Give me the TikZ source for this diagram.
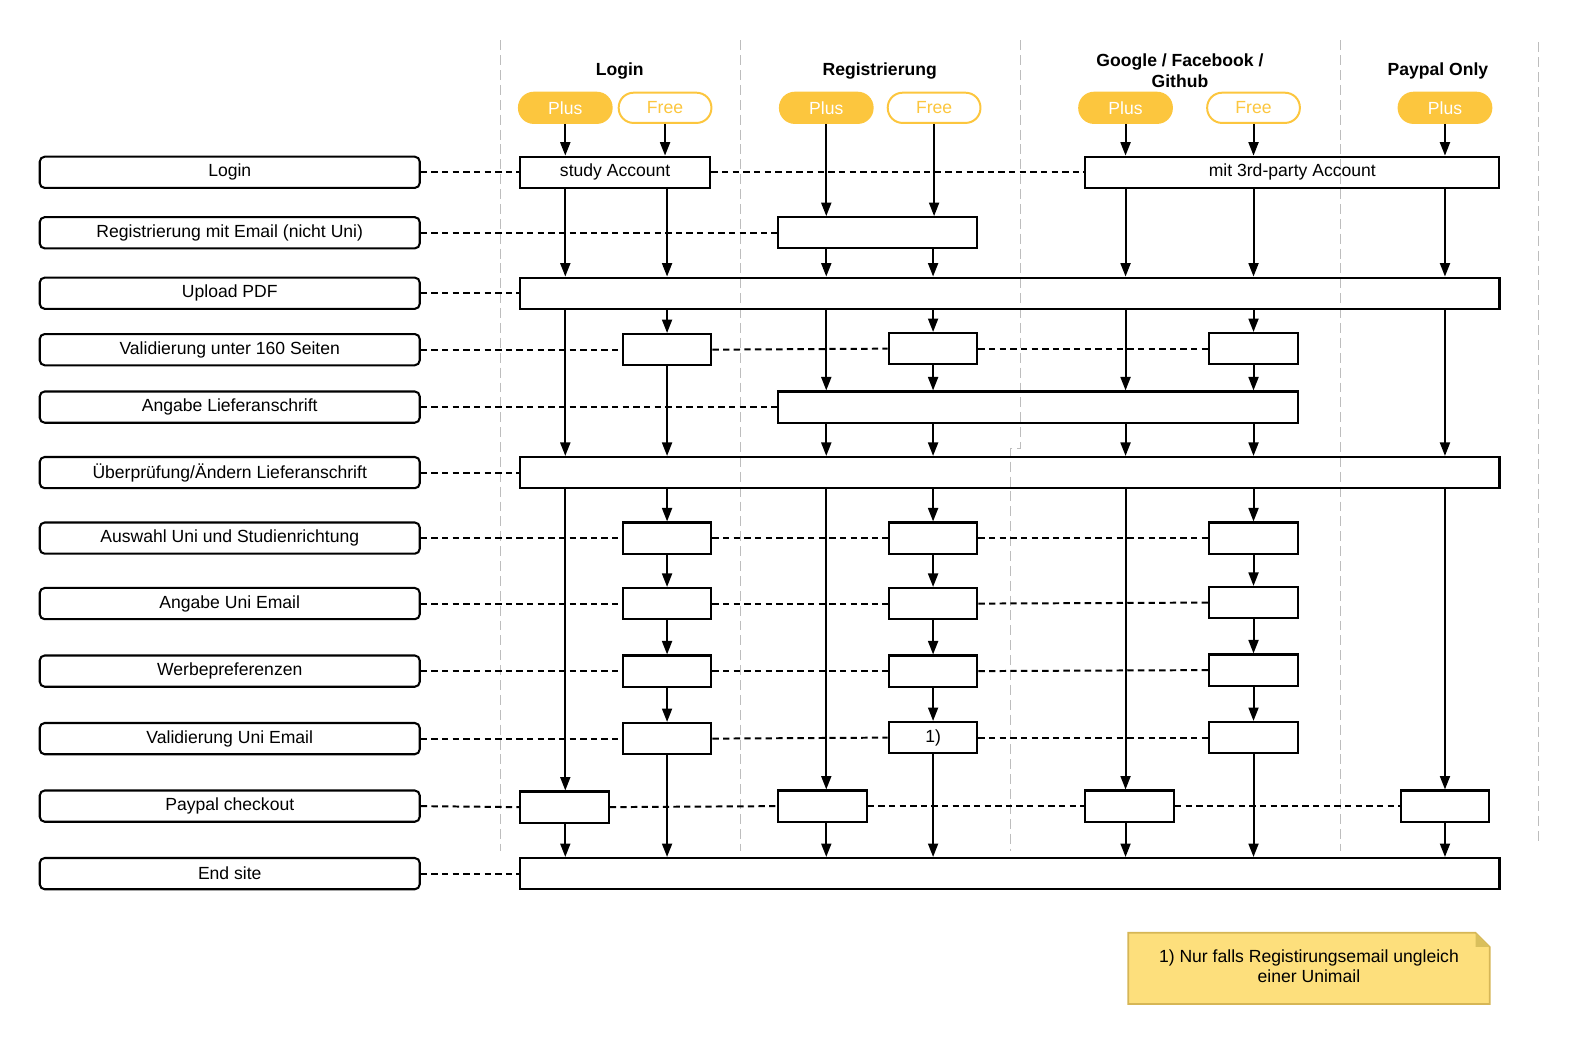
\documentclass[tikz,border=0pt]{standalone}
\usepackage{fontspec}
\setmainfont{Liberation Sans}
\usetikzlibrary{arrows.meta, calc, backgrounds}
\usepackage{xcolor}
\definecolor{pillcol}{HTML}{FCC63E}
\definecolor{notecol}{HTML}{FDDF7C}
\definecolor{notedraw}{HTML}{D6B656}
\definecolor{foldcol}{HTML}{D9BF5C}
\definecolor{gridcol}{HTML}{BDBDBD}

\begin{document}
\begin{tikzpicture}[
    x=0.025cm, y=-0.025cm,
    >={Triangle[length=9.5pt, width=7pt]},
    font=\fontsize{12.4}{14.5}\selectfont,
    rowlabel/.style={
        draw, rounded corners=3.5pt, line width=1.45pt, inner sep=0pt,
        minimum width=9.425cm, minimum height=0.775cm
    },
    box/.style={
        draw, line width=1.45pt, inner sep=0pt, minimum height=0.775cm
    },
    cell/.style={box, minimum width=2.2cm},
    plus/.style={
        fill=pillcol, draw=pillcol, line width=1.4pt, rounded corners=10.5pt,
        text=white, minimum width=2.3cm, minimum height=0.75cm, inner sep=0pt
    },
    free/.style={plus, fill=white, text=pillcol},
    head/.style={font=\fontsize{12.4}{14.5}\selectfont\bfseries, align=center},
    flow/.style={->, line width=1.45pt},
    link/.style={line width=1.4pt, dash pattern=on 4.5pt off 3pt},
    grid/.style={gridcol, line width=0.7pt, dash pattern=on 7pt off 3.5pt},
]
\useasboundingbox (0,0) rectangle (1568,1035);

% ── Column separators ──
\draw[grid] (497,40) -- (497,845);
\draw[grid] (735,40) -- (735,845);
\draw[grid] (1013,40) -- (1013,445) -- (1003,445) -- (1003,845);
\draw[grid] (1330,40) -- (1330,845);
\draw[grid] (1527,42) -- (1527,835);

% ── Column heads ──
\node[head] (hLogin) at (615,70) {Login};
\node[head] (hReg)   at (873,70) {Registrierung};
\node[head] (hOauth) at (1171,70) {Google / Facebook /\\Github};
\node[head] (hPay)   at (1427,70) {Paypal Only};

\node[plus] (pLP) at (561,107)  {Plus};
\node[free] (pLF) at (660,107)  {Free};
\node[plus] (pRP) at (820,107)  {Plus};
\node[free] (pRF) at (927,107)  {Free};
\node[plus] (pGP) at (1117,107) {Plus};
\node[free] (pGF) at (1244,107) {Free};
\node[plus] (pPP) at (1434,107) {Plus};

% ── Row labels ──
\node[rowlabel] (lLogin) at (228,171) {Login};
\node[rowlabel] (lReg)   at (228,231) {Registrierung mit Email (nicht Uni)};
\node[rowlabel] (lUp)    at (228,291) {Upload PDF};
\node[rowlabel] (lVal)   at (228,347) {Validierung unter 160 Seiten};
\node[rowlabel] (lLief)  at (228,404) {Angabe Lieferanschrift};
\node[rowlabel] (lCheck) at (228,469) {Überprüfung/Ändern Lieferanschrift};
\node[rowlabel] (lAusw)  at (228,534) {Auswahl Uni und Studienrichtung};
\node[rowlabel] (lUni)   at (228,599) {Angabe Uni Email};
\node[rowlabel] (lWerbe) at (228,666) {Werbepreferenzen};
\node[rowlabel] (lVUni)  at (228,733) {Validierung Uni Email};
\node[rowlabel] (lPay)   at (228,800) {Paypal checkout};
\node[rowlabel] (lEnd)   at (228,867) {End site};

% ── Steps ──
\node[box, minimum width=4.725cm]  (study)   at (610.5,171) {study Account};
\node[box, minimum width=10.275cm] (third)   at (1282.5,171) {mit 3rd-party Account};
\node[box, minimum width=4.95cm]   (reg)     at (871,231) {};
\node[box, minimum width=24.3cm]   (upload)  at (1002,291) {};
\node[cell] (v1) at (662,347) {};
\node[cell] (v2) at (926,346) {};
\node[cell] (v3) at (1244,346) {};
\node[box, minimum width=12.9cm]   (lief)    at (1030,404) {};
\node[box, minimum width=24.3cm]   (check)   at (1002,469) {};
\node[cell] (a1) at (662,534) {};
\node[cell] (a2) at (926,534) {};
\node[cell] (a3) at (1244,534) {};
\node[cell] (u1) at (662,599) {};
\node[cell] (u2) at (926,599) {};
\node[cell] (u3) at (1244,598) {};
\node[cell] (w1) at (662,666) {};
\node[cell] (w2) at (926,666) {};
\node[cell] (w3) at (1244,665) {};
\node[cell] (vu1) at (662,733) {};
\node[cell] (vu2) at (926,732) {1)};
\node[cell] (vu3) at (1244,732) {};
\node[cell] (pay1) at (560,801) {};
\node[cell] (pay2) at (816,800) {};
\node[cell] (pay3) at (1121,800) {};
\node[cell] (pay4) at (1434,800) {};
\node[box, minimum width=24.3cm]   (endsite) at (1002,867) {};

% ── Row links ──
\foreach \a/\b in {lLogin/study, study/third, lReg/reg, lUp/upload,
    lVal/v1, v1/v2, v2/v3, lLief/lief, lCheck/check,
    lAusw/a1, a1/a2, a2/a3, lUni/u1, u1/u2, u2/u3,
    lWerbe/w1, w1/w2, w2/w3, lVUni/vu1, vu1/vu2, vu2/vu3,
    lPay/pay1, pay1/pay2, pay2/pay3, pay3/pay4, lEnd/endsite}
    \draw[link] (\a.east) -- (\b.west);

% ── Flows ──
\draw[flow] (pLP.south) -- (pLP.south |- study.north);
\draw[flow] (pLF.south) -- (pLF.south |- study.north);
\draw[flow] (pRP.south) -- (pRP.south |- reg.north);
\draw[flow] (pRF.south) -- (pRF.south |- reg.north);
\draw[flow] (pGP.south) -- (pGP.south |- third.north);
\draw[flow] (pGF.south) -- (pGF.south |- third.north);
\draw[flow] (pPP.south) -- (pPP.south |- third.north);

% Login
\foreach \a/\b in {study/upload, upload/check, check/pay1, pay1/endsite}
    \draw[flow] (\a.south -| pLP) -- (\b.north -| pLP);
\foreach \a/\b in {study/upload, upload/v1, v1/check, check/a1, a1/u1,
    u1/w1, w1/vu1, vu1/endsite}
    \draw[flow] (\a.south -| v1) -- (\b.north -| v1);

% Registrierung
\foreach \a/\b in {reg/upload, upload/lief, lief/check, check/pay2, pay2/endsite}
    \draw[flow] (\a.south -| pRP) -- (\b.north -| pRP);
\foreach \a/\b in {reg/upload, upload/v2, v2/lief, lief/check, check/a2,
    a2/u2, u2/w2, w2/vu2, vu2/endsite}
    \draw[flow] (\a.south -| v2) -- (\b.north -| v2);

% Google / Facebook / Github
\foreach \a/\b in {third/upload, upload/lief, lief/check, check/pay3, pay3/endsite}
    \draw[flow] (\a.south -| pGP) -- (\b.north -| pGP);
\foreach \a/\b in {third/upload, upload/v3, v3/lief, lief/check, check/a3,
    a3/u3, u3/w3, w3/vu3, vu3/endsite}
    \draw[flow] (\a.south -| v3) -- (\b.north -| v3);

% Paypal only
\foreach \a/\b in {third/upload, upload/check, check/pay4, pay4/endsite}
    \draw[flow] (\a.south -| pPP) -- (\b.north -| pPP);

% ── Footnote ──
\node[minimum width=8.95cm, minimum height=1.75cm, align=center] (note)
    at (1299,959) {1) Nur falls Registirungsemail ungleich\\einer Unimail};
\begin{scope}[on background layer]
\draw[fill=notecol, draw=notedraw, line width=1.2pt]
    ($(note.south west)+(0,2)$) -- ($(note.north west)+(0,2)$)
    -- ($(note.north east)+(-14,2)$) -- ($(note.north east)+(0,16)$)
    -- ($(note.south east)+(0,2)$) -- cycle;
\fill[foldcol] ($(note.north east)+(-14,2)$) -- ($(note.north east)+(-14,16)$)
    -- ($(note.north east)+(0,16)$) -- cycle;
\end{scope}

\end{tikzpicture}
\end{document}
